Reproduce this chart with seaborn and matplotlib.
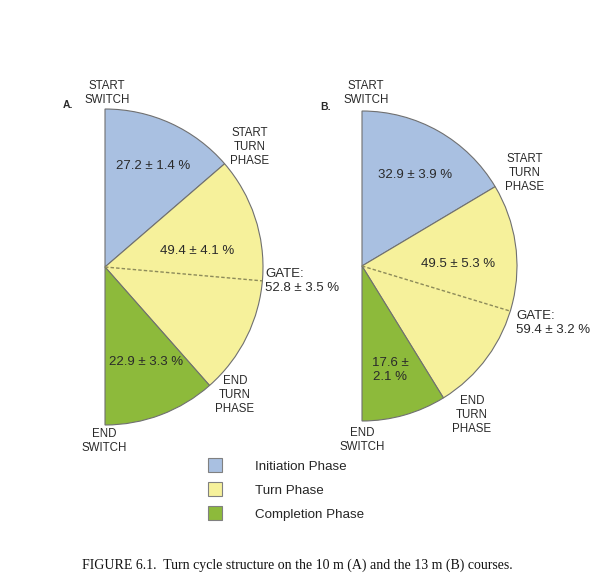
import numpy as np
import seaborn as sns
import matplotlib.pyplot as plt
from matplotlib.patches import Patch

# turn cycle data (% of the turn cycle)
phases = ['Initiation Phase', 'Turn Phase', 'Completion Phase']
course_a = [27.2, 49.4, 22.9]
course_a_sd = [1.4, 4.1, 3.3]
gate_a, gate_a_sd = 52.8, 3.5
course_b = [32.9, 49.5, 17.6]
course_b_sd = [3.9, 5.3, 2.1]
gate_b, gate_b_sd = 59.4, 3.2

colors = ['#a9c0e1', '#f6f19b', '#8dba3b']
edge = '#707070'

sns.set_style('white')
plt.rcParams['font.family'] = ['Liberation Sans', 'DejaVu Sans']

W, H = 603, 587
fig = plt.figure(figsize=(W / 100, H / 100), dpi=100)
ax = fig.add_axes([0, 0, 1, 1])


def half_pie(vals, gate, cx, cy, r):
    # half circle = the whole cycle
    fr = [v / sum(vals) / 2 for v in vals]
    ax.pie(fr, normalize=False, colors=colors, startangle=90, counterclock=False,
           center=(cx, cy), radius=r,
           wedgeprops=dict(edgecolor=edge, linewidth=0.8))
    ang = np.deg2rad(90 - gate / 100 * 180)
    ax.plot([cx, cx + r * np.cos(ang)], [cy, cy + r * np.sin(ang)],
            color='#8c8a5a', lw=1, ls=(0, (2.5, 1.5)))


# A: 10 m course, B: 13 m course
half_pie(course_a, gate_a, 105, H - 267, 158)
half_pie(course_b, gate_b, 362, H - 266, 155)

ax.set_xlim(0, W)
ax.set_ylim(0, H)
ax.set_aspect('auto')
ax.axis('off')


def txt(x, y, s, size=8.3, ha='center', ls=1.2, **kw):
    ax.text(x, H - y, s, fontsize=size, ha=ha, va='center', color='#2a2a2a',
            linespacing=ls, **kw)


pm = '\u00b1'
# panel A
txt(68, 105, 'A.', size=7.5, weight='bold')
txt(107, 93, 'START\nSWITCH')
txt(104, 441, 'END\nSWITCH')
txt(250, 147, 'START\nTURN\nPHASE')
txt(235, 395, 'END\nTURN\nPHASE')
txt(153, 166, f'{course_a[0]} {pm} {course_a_sd[0]} %', size=9.5)
txt(197, 251, f'{course_a[1]} {pm} {course_a_sd[1]} %', size=9.5)
txt(146, 362, f'{course_a[2]} {pm} {course_a_sd[2]} %', size=9.5)
txt(265, 281, f'GATE:\n{gate_a} {pm} {gate_a_sd} %', size=9.5, ha='left', ls=1.3)

# panel B
txt(326, 107, 'B.', size=7.5, weight='bold')
txt(366, 93, 'START\nSWITCH')
txt(362, 440, 'END\nSWITCH')
txt(525, 173, 'START\nTURN\nPHASE')
txt(472, 415, 'END\nTURN\nPHASE')
txt(415, 175, f'{course_b[0]} {pm} {course_b_sd[0]} %', size=9.5)
txt(458, 264, f'{course_b[1]} {pm} {course_b_sd[1]} %', size=9.5)
txt(390, 370, f'{course_b[2]} {pm}\n{course_b_sd[2]} %', size=9.5)
txt(516, 323, f'GATE:\n{gate_b} {pm} {gate_b_sd} %', size=9.5, ha='left', ls=1.3)

handles = [Patch(facecolor=c, edgecolor='#808080', lw=0.8) for c in colors]
ax.legend(handles, phases, loc='upper left', bbox_to_anchor=(208 / W, 1 - 458 / H),
          frameon=False, fontsize=9.6, handlelength=1.05, handleheight=1.25,
          handletextpad=2.5, labelspacing=0.72, borderpad=0, borderaxespad=0)

ax.text(82, H - 565, 'FIGURE 6.1.  Turn cycle structure on the 10 m (A) and the 13 m (B) courses.',
        fontsize=10, family='Liberation Serif', ha='left', va='center', color='#111111')

fig.savefig('out.png', dpi=100)
